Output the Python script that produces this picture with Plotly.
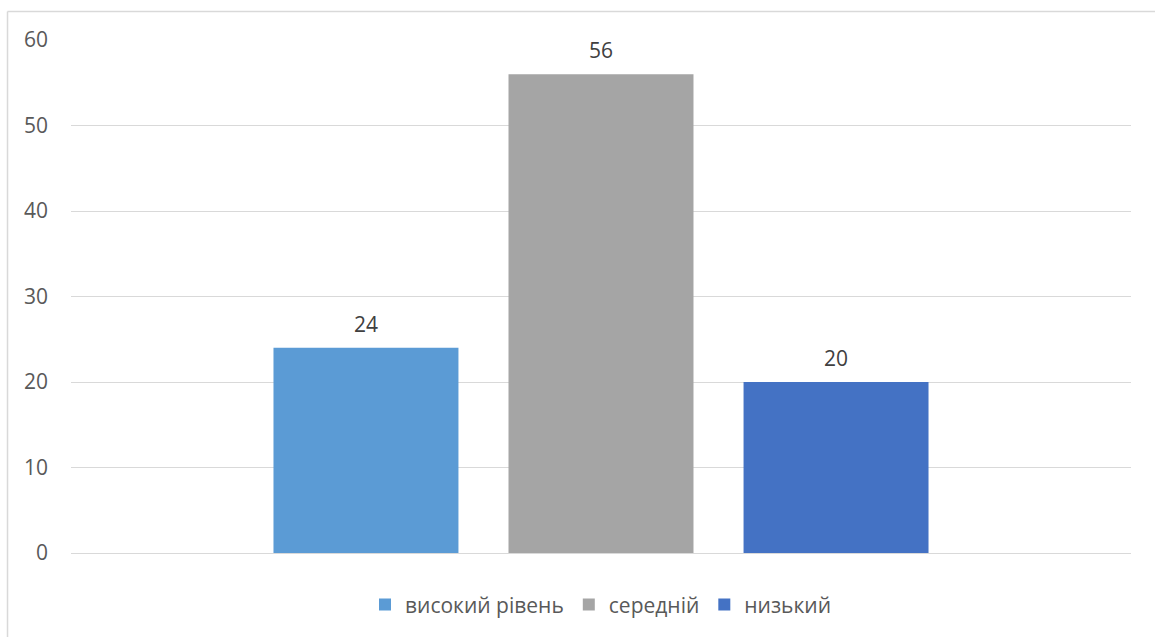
import plotly.graph_objects as go

series_names = ["високий рівень", "середній", "низький"]
series_values = [24, 56, 20]
series_colors = ["#5B9BD5", "#A5A5A5", "#4472C4"]
y_ticks = [0, 10, 20, 30, 40, 50, 60]

FONT = "Open Sans"

fig = go.Figure()
for name, val, col in zip(series_names, series_values, series_colors):
    fig.add_trace(go.Bar(
        x=[name], y=[val], name=name,
        marker=dict(color=col, line=dict(width=0)),
    ))
    fig.add_annotation(
        x=name, y=val, xref="x", yref="y", text=str(val), showarrow=False,
        yanchor="middle", yshift=24,
        font=dict(family=FONT, size=21, color="#404040"),
    )

fig.update_layout(
    width=1155, height=637,
    margin=dict(l=71, r=24, t=40, b=84),
    paper_bgcolor="white", plot_bgcolor="white",
    barmode="overlay", bargap=0.213,
    font=dict(family=FONT, size=21, color="#595959"),
    showlegend=True,
    legend=dict(orientation="h", x=0.5, xanchor="center", y=-0.101, yanchor="middle",
                font=dict(family=FONT, size=21, color="#595959"),
                itemwidth=30, tracegroupgap=0),
    xaxis=dict(type="category", showticklabels=False, showgrid=False, zeroline=False,
               showline=False, range=[-1.255, 3.255]),
    yaxis=dict(range=[0, 60], tickvals=y_ticks, showgrid=True, gridcolor="#D9D9D9",
               gridwidth=1, zeroline=True, zerolinecolor="#D9D9D9", zerolinewidth=1,
               showline=False, ticks="", ticklabelstandoff=22,
               tickfont=dict(family=FONT, size=21, color="#595959")),
    shapes=[
        dict(type="line", xref="paper", yref="paper", x0=-0.0599, x1=-0.0599,
             y0=1.0556, y1=-0.3, line=dict(color="#D9D9D9", width=1.5)),
        dict(type="line", xref="paper", yref="paper", x0=-0.0599, x1=1.1,
             y0=1.0556, y1=1.0556, line=dict(color="#D9D9D9", width=1.5)),
    ],
)

fig.write_html("out.html")
